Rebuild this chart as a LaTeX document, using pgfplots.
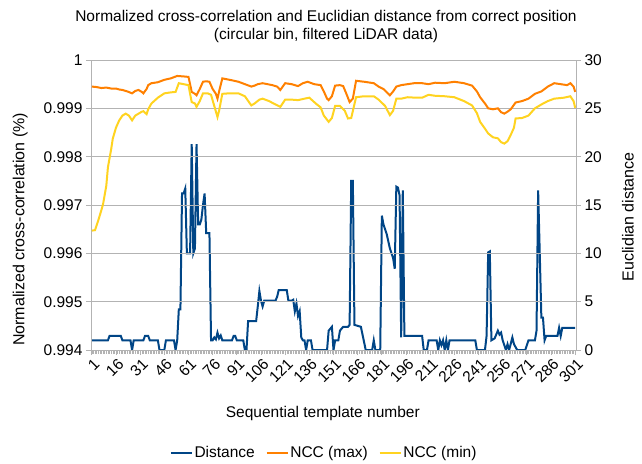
\documentclass[border=0pt]{standalone}
\usepackage{fontspec}
\setmainfont{Liberation Sans}
\usepackage{pgfplots}
\pgfplotsset{compat=1.18}
\definecolor{cdist}{HTML}{004586}
\definecolor{cmax}{HTML}{FF8000}
\definecolor{cmin}{HTML}{FFD320}
\definecolor{cgrid}{HTML}{B3B3B3}
\begin{document}
\begin{tikzpicture}[font=\fontsize{15.5bp}{18.6bp}\selectfont]
\path[use as bounding box] (-91bp,-114bp) rectangle (551bp,350bp);
% right axis: distance
\begin{axis}[
  at={(0,0)}, anchor=south west, scale only axis,
  width=485bp, height=290bp,
  xmin=0.5, xmax=301.5, ymin=0, ymax=30,
  axis x line=none, axis y line*=right,
  axis line style={cgrid, line width=0.8bp},
  ytick={0,5,...,30},
  yticklabels={0,5,10,15,20,25,30},
  tick align=outside, major tick length=5bp,
  tick style={cgrid, line width=0.8bp},
  yticklabel style={text=black},
  ylabel={Euclidian distance},
  ylabel style={at={(axis description cs:1.107,0.459)}, anchor=center, font=\fontsize{16bp}{19bp}\selectfont},
  legend columns=3,
  legend style={draw=none, fill=none, at={(axis description cs:0.48,-0.355)}, anchor=center,
    /tikz/every even column/.append style={column sep=9bp},
    nodes={inner sep=1.5bp}},
  legend image code/.code={\draw[#1, line width=2.5bp] (0bp,0bp) -- (21bp,0bp);},
]
\addplot[cdist, line width=2bp] coordinates {
(1,1)(11,1)(12,1.45)(19,1.45)(20,1)(25,1)(26,0)(27,1)(33,1)(34,1.45)(36,1.45)(37,1)(42,1)(43,0)(46,0)(47,1)(52,1)(53,0)(54,1)(55,4.2)(56,4.2)(57,16.2)(58,16.2)(59,16.7)(60,10)(61,10)(62,10)(63,21.3)(64,10)(65,10.5)(66,21.3)(67,13)(68,13)(69,13.5)(70,15)(71,16.2)(72,12.1)(73,12.1)(74,12.1)(75,1)(76,1)(77,1.3)(78,1.1)(79,1.8)(80,1.2)(81,1.5)(82,1)(88,1)(89,1.45)(90,1.45)(91,1)(95,1)(96,0)(97,0)(98,3)(103,3)(104,4.5)(105,6.1)(106,5.1)(107,4.5)(108,5.1)(115,5.1)(116,5.5)(117,6.2)(122,6.2)(123,5.1)(125,5.1)(126,5.2)(127,4.0)(128,4.8)(129,3.5)(130,4.0)(131,1.3)(132,1)(133,1)(134,0)(135,1)(137,1)(138,0)(147,0)(148,2)(150,2.4)(151,0)(152,1)(154,1)(155,2)(157,2.4)(160,2.4)(161,2.6)(162,17.5)(163,17.5)(164,2.6)(168,2.4)(171,0)(175,0)(176,1)(177,0)(180,0)(181,13.9)(182,13.0)(184,12.0)(186,10.5)(188,9.5)(189,8.4)(190,16.9)(191,16.8)(192,16)(193,1.3)(194,16.5)(195,1.45)(201,1.45)(206,1.45)(207,0)(209,0)(210,1)(215,1)(216,0)(217,1)(218,0.5)(219,1)(220,0)(221,1)(222,0)(223,1)(239,1)(240,0)(245,0)(246,1.45)(247,10.1)(248,10.2)(249,1)(251,1.2)(253,2.0)(254,1.6)(255,1.8)(256,1.0)(258,0)(259,0.6)(260,0)(262,1.3)(263,0.6)(265,0)(270,0)(272,1)(276,1)(277,2)(278,16.5)(279,10)(280,3.35)(281,3.35)(282,1)(283,1.45)(290,1.45)(291,2.3)(292,1.45)(293,2.3)(301,2.3)
};
\addlegendentry{Distance}
\addlegendimage{cmax}
\addlegendentry{NCC (max)}
\addlegendimage{cmin}
\addlegendentry{NCC (min)}
\end{axis}
% left axis: NCC
\begin{axis}[
  at={(0,0)}, anchor=south west, scale only axis,
  width=485bp, height=290bp,
  xmin=0.5, xmax=301.5, ymin=0.994, ymax=1,
  axis x line*=bottom, axis y line*=left,
  axis line style={cgrid, line width=0.8bp},
  ytick={0.994,0.995,0.996,0.997,0.998,0.999,1},
  yticklabels={0.994,0.995,0.996,0.997,0.998,0.999,1},
  xtick={1,16,...,301},
  minor xtick={1,...,301},
  /pgf/number format/assume math mode=true,
  tick align=outside, major tick length=5bp, minor tick length=4bp,
  tick style={cgrid, line width=0.8bp},
  minor tick style={cgrid, line width=0.5bp},
  ymajorgrids, grid style={cgrid, line width=0.8bp},
  xticklabel style={rotate=45, anchor=north east, inner sep=1bp, text=black, yshift=-1.5bp},
  yticklabel style={text=black},
  ylabel={Normalized cross-correlation (\%)},
  ylabel style={at={(axis description cs:-0.146,0.416)}, anchor=center, font=\fontsize{16bp}{19bp}\selectfont},
  xlabel={Sequential template number},
  xlabel style={at={(axis description cs:0.478,-0.22)}, anchor=center},
  title={Normalized cross-correlation and Euclidian distance from correct position\\(circular bin, filtered LiDAR data)},
  title style={at={(axis description cs:0.4845,1.095)}, anchor=center, align=center, font=\fontsize{15.5bp}{17.5bp}\selectfont},
]
\addplot[cmax, line width=2bp] coordinates {
(1,0.99945)(4,0.99944)(7,0.99942)(10,0.99943)(13,0.99941)(16,0.99941)(18,0.99939)(20,0.99938)(23,0.99935)(26,0.99931)(28,0.99936)(30,0.99938)(32,0.99934)(33,0.99931)(35,0.99940)(36,0.99948)(38,0.99952)(42,0.99954)(46,0.99959)(50,0.99962)(54,0.99967)(58,0.99966)(61,0.99965)(62,0.99950)(63,0.99934)(65,0.99930)(66,0.99927)(68,0.99940)(70,0.99955)(72,0.99956)(74,0.99955)(76,0.99940)(78,0.99930)(79,0.99920)(80,0.99935)(82,0.99962)(85,0.99960)(88,0.99958)(92,0.99955)(96,0.99950)(100,0.99945)(102,0.99947)(104,0.99950)(107,0.99952)(110,0.99950)(113,0.99948)(116,0.99945)(118,0.99938)(121,0.99952)(125,0.99950)(129,0.99946)(132,0.99952)(135,0.99955)(139,0.99950)(143,0.99948)(145,0.99935)(147,0.99920)(148,0.99917)(150,0.99925)(152,0.99947)(155,0.99948)(157,0.99946)(159,0.99930)(161,0.99913)(163,0.99920)(165,0.99957)(170,0.99955)(176,0.99952)(179,0.99945)(182,0.99940)(186,0.99927)(188,0.99935)(190,0.99945)(193,0.99948)(197,0.99950)(201,0.99952)(206,0.99952)(210,0.99950)(214,0.99953)(220,0.99952)(226,0.99955)(232,0.99952)(237,0.99947)(240,0.99935)(242,0.99923)(245,0.99910)(247,0.99900)(250,0.99898)(253,0.99900)(255,0.99892)(257,0.99889)(259,0.99893)(261,0.99898)(264,0.99912)(268,0.99915)(272,0.99920)(276,0.99930)(280,0.99935)(284,0.99945)(288,0.99952)(292,0.99950)(296,0.99948)(298,0.99952)(300,0.99945)(301,0.99934)
};
\addplot[cmin, line width=2bp] coordinates {
(1,0.99647)(3,0.99648)(5,0.99668)(7,0.99690)(8,0.99702)(10,0.99740)(11,0.99778)(13,0.99815)(14,0.99837)(16,0.99860)(18,0.99875)(20,0.99885)(22,0.99889)(24,0.99885)(26,0.99875)(28,0.99885)(30,0.99889)(32,0.99893)(33,0.99894)(35,0.99888)(36,0.99898)(38,0.99910)(42,0.99922)(46,0.99931)(50,0.99933)(53,0.99934)(55,0.99952)(58,0.99950)(61,0.99948)(62,0.99930)(63,0.99913)(65,0.99910)(66,0.99903)(68,0.99915)(70,0.99931)(73,0.99931)(75,0.99928)(77,0.99905)(79,0.99882)(80,0.99895)(82,0.99930)(86,0.99931)(92,0.99931)(96,0.99925)(100,0.99906)(102,0.99910)(105,0.99918)(107,0.99920)(111,0.99915)(115,0.99908)(118,0.99903)(121,0.99918)(125,0.99918)(129,0.99917)(133,0.99920)(136,0.99922)(140,0.99910)(143,0.99902)(145,0.99885)(148,0.99872)(150,0.99880)(152,0.99905)(155,0.99905)(158,0.99895)(160,0.99879)(162,0.99880)(165,0.99923)(170,0.99925)(176,0.99925)(179,0.99918)(183,0.99905)(186,0.99886)(188,0.99895)(190,0.99920)(193,0.99920)(197,0.99923)(202,0.99922)(206,0.99922)(210,0.99928)(214,0.99926)(220,0.99925)(226,0.99923)(232,0.99915)(237,0.99906)(240,0.99890)(242,0.99872)(245,0.99858)(247,0.99848)(250,0.99840)(253,0.99838)(255,0.99830)(257,0.99827)(259,0.99832)(261,0.99845)(263,0.99860)(264,0.99879)(268,0.99880)(272,0.99885)(276,0.99900)(280,0.99908)(284,0.99915)(288,0.99920)(294,0.99922)(298,0.99925)(300,0.99915)(301,0.99901)
};
\end{axis}
\end{tikzpicture}
\end{document}
